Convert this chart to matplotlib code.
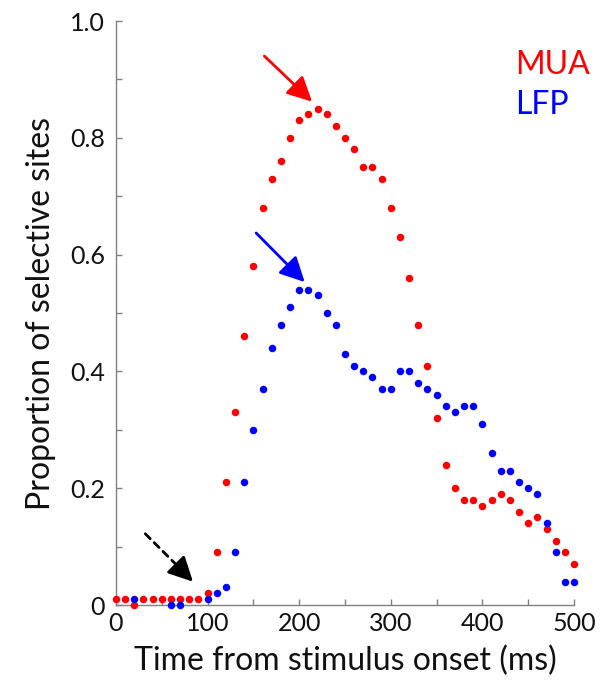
import matplotlib
matplotlib.use("Agg")
import matplotlib.pyplot as plt
import numpy as np
from matplotlib.ticker import MultipleLocator

plt.rcParams['font.family'] = ['Lato', 'DejaVu Sans']

time_ms = list(range(0, 501, 10))

mua = [0.01, 0.01, 0.00, 0.01, 0.01, 0.01, 0.01, 0.01, 0.01, 0.01,
       0.02, 0.09, 0.21, 0.33, 0.46, 0.58, 0.68, 0.73, 0.76, 0.80,
       0.83, 0.84, 0.85, 0.84, 0.82, 0.80, 0.78, 0.75, 0.75, 0.73,
       0.68, 0.63, 0.56, 0.48, 0.41, 0.32, 0.24, 0.20, 0.18, 0.18,
       0.17, 0.18, 0.19, 0.18, 0.16, 0.14, 0.15, 0.13, 0.11, 0.09,
       0.07]

lfp = [None, None, 0.01, None, None, None, 0.00, 0.00, None, None,
       0.01, 0.02, 0.03, 0.09, 0.21, 0.30, 0.37, 0.44, 0.48, 0.51,
       0.54, 0.54, 0.53, 0.50, 0.48, 0.43, 0.41, 0.40, 0.39, 0.37,
       0.37, 0.40, 0.40, 0.38, 0.37, 0.36, 0.34, 0.33, 0.34, 0.34,
       0.31, 0.26, 0.23, 0.23, 0.21, 0.20, 0.19, 0.14, 0.09, 0.04,
       0.04]

series_labels = ["MUA", "LFP"]
xticks = [0, 100, 200, 300, 400, 500]
yticks = [0, 0.2, 0.4, 0.6, 0.8, 1.0]
ytick_labels = ["0", "0.2", "0.4", "0.6", "0.8", "1.0"]

fig = plt.figure(figsize=(6.0, 6.89), dpi=100)
ax = fig.add_axes([0.1933, 0.1219, 0.7634, 0.8476])

t = np.array(time_ms, dtype=float)
m = np.array(mua, dtype=float)
l = np.array([np.nan if v is None else v for v in lfp], dtype=float)

ax.plot(t, m, 'o', color='#ff0000', markersize=5.4, markeredgewidth=0, clip_on=False, zorder=3)
ax.plot(t, l, 'o', color='#0000ff', markersize=5.4, markeredgewidth=0, clip_on=False, zorder=4)

ax.set_xlim(0, 500)
ax.set_ylim(0, 1.0)
ax.set_xticks(xticks)
ax.set_xticklabels([str(v) for v in xticks])
ax.set_yticks(yticks)
ax.set_yticklabels(ytick_labels)
ax.xaxis.set_minor_locator(MultipleLocator(50))
ax.yaxis.set_minor_locator(MultipleLocator(0.1))

for s in ['top', 'right']:
    ax.spines[s].set_visible(False)
for s in ['left', 'bottom']:
    ax.spines[s].set_color('#808080')
    ax.spines[s].set_linewidth(1.0)

ax.tick_params(which='both', direction='in', length=4, width=1.0, color='#808080',
               labelsize=18, labelcolor='#111111')
ax.tick_params(axis='y', pad=8)
ax.tick_params(axis='x', pad=5)

ax.set_xlabel("Time from stimulus onset (ms)", fontsize=23, color='#111111', labelpad=8)
ax.set_ylabel("Proportion of selective sites", fontsize=23, color='#111111', labelpad=10)

ax.text(0.871, 0.925, series_labels[0], transform=ax.transAxes, color='#ff0000',
        fontsize=23, ha='left', va='center')
ax.text(0.871, 0.856, series_labels[1], transform=ax.transAxes, color='#0000ff',
        fontsize=23, ha='left', va='center')

arrow_style = '-|>,head_length=0.75,head_width=0.38'
ax.annotate('', xy=(214, 0.862), xytext=(162, 0.94),
            arrowprops=dict(arrowstyle=arrow_style, color='#ff0000', lw=2,
                            mutation_scale=20, shrinkA=0, shrinkB=0))
ax.annotate('', xy=(206, 0.553), xytext=(153, 0.637),
            arrowprops=dict(arrowstyle=arrow_style, color='#0000ff', lw=2,
                            mutation_scale=20, shrinkA=0, shrinkB=0))
# dashed shaft + solid head for the onset arrow
ax.annotate('', xy=(76, 0.053), xytext=(32, 0.122),
            arrowprops=dict(arrowstyle='-', color='#000000', lw=2,
                            linestyle=(0, (2.5, 2)), shrinkA=0, shrinkB=0))
ax.annotate('', xy=(84, 0.04), xytext=(72, 0.059),
            arrowprops=dict(arrowstyle=arrow_style, color='#000000', lw=2,
                            mutation_scale=20, shrinkA=0, shrinkB=0))

fig.savefig('out.png', dpi=100)
